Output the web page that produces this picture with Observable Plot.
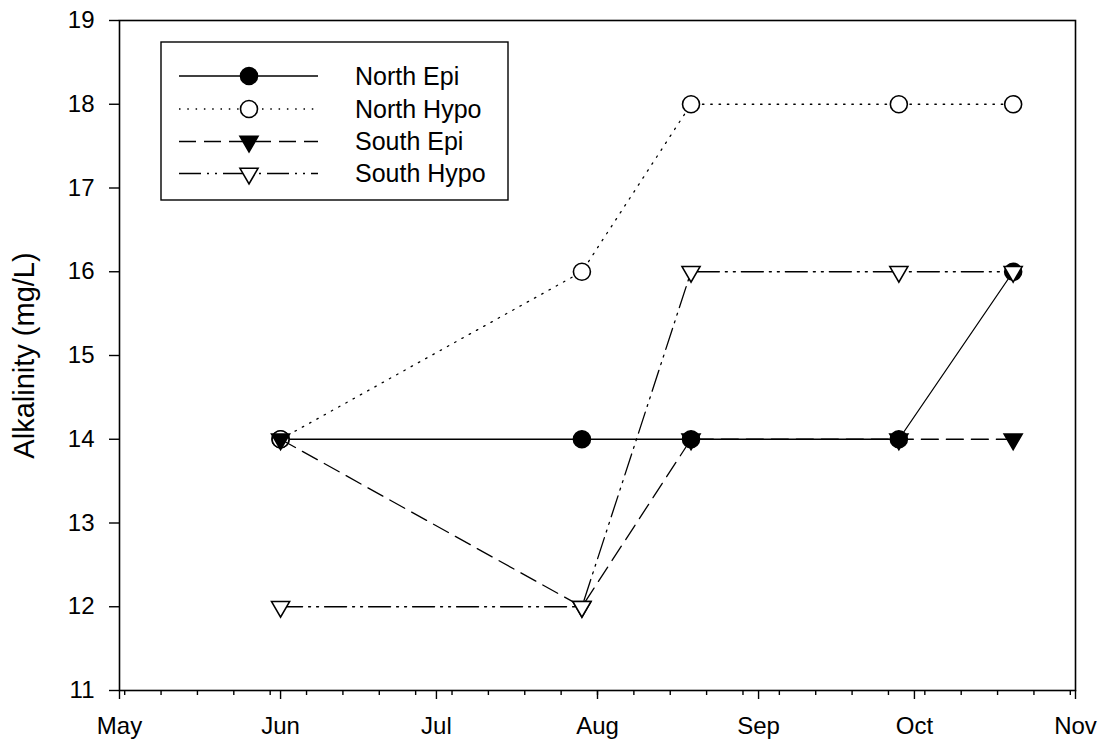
<!DOCTYPE html>
<html><head><meta charset="utf-8">
<script src="https://cdn.jsdelivr.net/npm/d3@7"></script>
<script src="https://cdn.jsdelivr.net/npm/@observablehq/plot@0.6"></script>
<style>
body{margin:0;background:#fff;font-family:"Liberation Sans",Arial,sans-serif;}
#wrap{position:relative;width:1098px;height:744px;}
#legend{position:absolute;left:0;top:0;pointer-events:none;}
</style></head><body><div id="wrap"></div>
<script>
// ---- data ----
const sampleDates = ["2003-06-01","2003-07-29","2003-08-19","2003-09-28","2003-10-20"];
const seriesNames = ["North Epi","North Hypo","South Epi","South Hypo"];
const northEpi  = [14,14,14,14,16];
const northHypo = [14,16,18,18,18];
const southEpi  = [14,12,14,14,14];
const southHypo = [12,12,16,16,16];
const monthTicks = ["2003-05-01","2003-06-01","2003-07-01","2003-08-01","2003-09-01","2003-10-01","2003-11-01"];
const monthLabels = ["May","Jun","Jul","Aug","Sep","Oct","Nov"];
const yTicks = [11,12,13,14,15,16,17,18,19];
const yLabel = "Alkalinity (mg/L)";

// ---- build ----
const parse = s => new Date(s + "T00:00:00Z");
const dates = sampleDates.map(parse);
const monthDates = monthTicks.map(parse);
const weekTicks = d3.utcDay.range(parse("2003-05-02"), parse("2003-11-01"), 7);
const valuesList = [northEpi, northHypo, southEpi, southHypo];

const triDown = {draw(ctx, size) {
  const y = Math.sqrt(size / (Math.sqrt(3) * 3));
  ctx.moveTo(0, y * 2);
  ctx.lineTo(-Math.sqrt(3) * y, -y);
  ctx.lineTo(Math.sqrt(3) * y, -y);
  ctx.closePath();
}};

const styles = [
  {dash: null, symbol: "circle", r: 8.5, fill: "black"},
  {dash: "1.5,6.8", symbol: "circle", r: 8.5, fill: "white"},
  {dash: "17,8", symbol: triDown, r: 6.7, fill: "black"},
  {dash: "22,6,2,6,2,6", symbol: triDown, r: 6.7, fill: "white"}
];

const tables = valuesList.map((vals, i) => dates.map((d, j) => ({date: d, value: vals[j], series: seriesNames[i]})));

const marks = [];
tables.forEach((rows, i) => {
  const s = styles[i];
  marks.push(Plot.line(rows, {x: "date", y: "value", stroke: "black", strokeWidth: 1.3, strokeDasharray: s.dash || undefined}));
  marks.push(Plot.dot(rows, {x: "date", y: "value", symbol: s.symbol, r: s.r, fill: s.fill, stroke: "black", strokeWidth: 1.6}));
});

const fmt = d => monthLabels[monthDates.findIndex(m => +m === +d)];

const chart = Plot.plot({
  width: 1098, height: 744,
  marginLeft: 119, marginRight: 23, marginTop: 20, marginBottom: 54,
  style: {fontFamily: "'Liberation Sans', Arial, sans-serif", color: "black", background: "white"},
  x: {type: "utc", domain: [monthDates[0], monthDates[monthDates.length - 1]]},
  y: {domain: [11, 19]},
  marks: [
    Plot.axisX({ticks: weekTicks, tickSize: 5, tickFormat: () => "", label: null, strokeWidth: 1.4}),
    Plot.axisX({ticks: monthDates, tickSize: 9, tickPadding: 17, tickFormat: fmt, label: null, strokeWidth: 1.4}),
    Plot.axisY({ticks: yTicks, tickSize: 10, tickPadding: 15, tickFormat: d => String(d), strokeWidth: 1.4,
      label: yLabel, labelAnchor: "center", labelArrow: "none", labelOffset: 106}),
    ...marks,
    Plot.frame({stroke: "black", strokeWidth: 1.6})
  ]
});
chart.querySelectorAll("text").forEach(t => t.style.setProperty("font-size", "24px", "important"));
chart.querySelectorAll('g[aria-label="y-axis label"] text').forEach(t => t.style.setProperty("font-size", "29px", "important"));
document.getElementById("wrap").appendChild(chart);

// ---- legend (inside plot area) ----
const lg = d3.select("#wrap").append("svg").attr("id", "legend").attr("width", 1098).attr("height", 744);
lg.append("rect").attr("x", 161).attr("y", 42).attr("width", 347).attr("height", 158)
  .attr("fill", "white").attr("stroke", "black").attr("stroke-width", 1.4);
const rowY = [76, 109, 141.5, 173.5];
seriesNames.forEach((name, i) => {
  const s = styles[i];
  lg.append("line").attr("x1", 179).attr("x2", 318).attr("y1", rowY[i]).attr("y2", rowY[i])
    .attr("stroke", "black").attr("stroke-width", 1.3).attr("stroke-dasharray", s.dash);
  const sym = s.symbol === "circle" ? d3.symbolCircle : s.symbol;
  lg.append("path").attr("d", d3.symbol(sym, Math.PI * s.r * s.r)())
    .attr("transform", `translate(249,${rowY[i]})`).attr("fill", s.fill).attr("stroke", "black").attr("stroke-width", 1.6);
  lg.append("text").attr("x", 355).attr("y", rowY[i]).attr("dy", "0.35em")
    .attr("font-family", "'Liberation Sans', Arial, sans-serif").attr("font-size", 25).text(name);
});
</script></body></html>
